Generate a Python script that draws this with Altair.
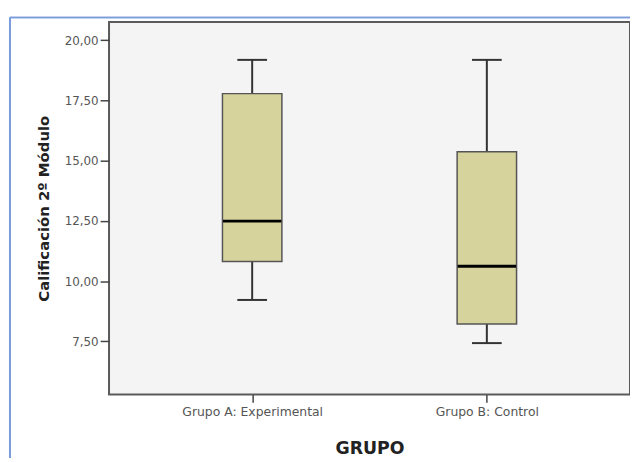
import altair as alt
import pandas as pd

groups = ["Grupo A: Experimental", "Grupo B: Control"]
whisker_low = [9.22, 7.43]
q1 = [10.82, 8.22]
median = [12.49, 10.62]
q3 = [17.78, 15.37]
whisker_high = [19.18, 19.18]
y_ticks = [7.5, 10.0, 12.5, 15.0, 17.5, 20.0]

df = pd.DataFrame({
    "grupo": groups,
    "lo": whisker_low,
    "q1": q1,
    "med": median,
    "q3": q3,
    "hi": whisker_high,
})

W, H = 526, 376
FONT = "DejaVu Sans"

xenc = alt.X(
    "grupo:N",
    title="GRUPO",
    sort=groups,
    scale=alt.Scale(type="point", padding=0.61),
    axis=alt.Axis(
        labelAngle=0, tickSize=8, tickColor="#444", tickWidth=1.5,
        labelPadding=3, labelFont=FONT, labelFontSize=12.5, labelColor="#555",
        titleFont=FONT, titleFontSize=17.5, titleFontWeight="bold", titleColor="#222",
        titlePadding=22, domain=False, grid=False,
    ),
)
yscale = alt.Scale(domain=[5.30, 20.75], nice=False, zero=False)
yaxis = alt.Axis(
    values=y_ticks,
    labelExpr="replace(format(datum.value, '.2f'), '.', ',')",
    tickSize=9, tickColor="#444", tickWidth=1.5, labelPadding=2,
    labelFont=FONT, labelFontSize=12, labelColor="#555",
    title="Calificación 2º Módulo", titleFont=FONT, titleFontSize=15,
    titleFontWeight="bold", titleColor="#222", titlePadding=13,
    domain=False, grid=False,
)

base = alt.Chart(df)

whisker = base.mark_rule(color="#333", strokeWidth=2).encode(
    x=xenc, y=alt.Y("lo:Q", scale=yscale, axis=yaxis), y2="hi:Q"
)
cap_lo = base.mark_tick(color="#333", size=30, thickness=2, opacity=1).encode(x=xenc, y=alt.Y("lo:Q", scale=yscale))
cap_hi = base.mark_tick(color="#333", size=30, thickness=2, opacity=1).encode(x=xenc, y=alt.Y("hi:Q", scale=yscale))
box = base.mark_bar(size=60, fill="#D6D39C", stroke="#555", strokeWidth=1.5).encode(
    x=xenc, y=alt.Y("q1:Q", scale=yscale), y2="q3:Q"
)
med = base.mark_tick(color="#000", size=59, thickness=3, opacity=1).encode(x=xenc, y=alt.Y("med:Q", scale=yscale))

frame_left = alt.Chart(df).mark_rule(color="#7A9CDB", strokeWidth=2, clip=False).encode(
    x=alt.value(-100), y=alt.value(-4.5), y2=alt.value(460)
)
frame_top = alt.Chart(df).mark_rule(color="#7A9CDB", strokeWidth=1.5, clip=False).encode(
    x=alt.value(-100), x2=alt.value(540), y=alt.value(-4.5)
)

chart = alt.layer(frame_left, frame_top, whisker, box, med, cap_lo, cap_hi).properties(
    width=W, height=H,
    autosize=alt.AutoSizeParams(type="none"),
    padding={"left": 102, "top": 12, "right": 0, "bottom": 62},
    background="white",
).configure_view(
    fill="#F4F4F4", stroke="#5A5A5A", strokeWidth=2
)

chart.save("out.html", embed_options={"renderer": "svg", "actions": False})
